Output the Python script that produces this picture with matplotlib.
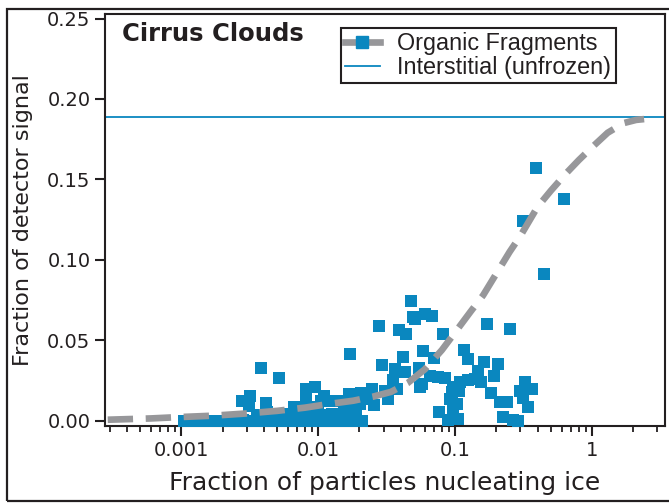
import matplotlib
matplotlib.use("Agg")
import matplotlib.pyplot as plt
from matplotlib.lines import Line2D
from matplotlib.patches import Rectangle
from matplotlib.ticker import FixedLocator, LogLocator, NullFormatter

# Fitted organic-fragment curve (fraction nucleating vs. detector fraction)
curve_x = [0.00029, 0.0006, 0.001, 0.0017, 0.003, 0.005, 0.008, 0.012, 0.018,
           0.025, 0.034, 0.045, 0.06, 0.08, 0.1, 0.13, 0.16, 0.2, 0.25, 0.3,
           0.4, 0.5, 0.65, 0.8, 1.0, 1.3, 1.7, 2.1, 2.4]
curve_y = [0.0007, 0.0015, 0.0024, 0.0032, 0.0046, 0.0062, 0.0082, 0.0105, 0.0125,
           0.0150, 0.0180, 0.0235, 0.0320, 0.0440, 0.055, 0.068, 0.078, 0.0915, 0.105,
           0.115, 0.133, 0.143, 0.154, 0.162, 0.170, 0.179, 0.185, 0.187, 0.1875]

# Individual cloud-event measurements
frag_x = [0.390, 0.624, 0.314, 0.447, 0.0475, 0.0493, 0.0509, 0.060, 0.0675, 0.0276,
          0.172, 0.252, 0.039, 0.044, 0.0812, 0.0170, 0.0413, 0.0586, 0.117, 0.124,
          0.0705, 0.162, 0.207, 0.029, 0.0361, 0.0427, 0.054, 0.148, 0.0038, 0.00515,
          0.0349, 0.193, 0.0657, 0.0747, 0.0844, 0.057, 0.0555, 0.096, 0.109, 0.125,
          0.140, 0.155, 0.0944, 0.107, 0.183, 0.0918, 0.103, 0.097, 0.212, 0.238,
          0.323, 0.297, 0.365, 0.314, 0.341, 0.0767, 0.0893, 0.1045, 0.224, 0.265,
          0.289, 0.0305, 0.0323, 0.0376, 0.0206, 0.0245, 0.0167, 0.0227, 0.0254, 0.0203,
          0.0187, 0.0172, 0.0081, 0.0095, 0.011, 0.0082, 0.0104, 0.0123, 0.0141, 0.0153,
          0.0067, 0.0093, 0.00276, 0.00317, 0.00415, 0.00312, 0.0036, 0.0042,
          # near-zero band
          0.00105, 0.00115, 0.00125, 0.0014, 0.0015, 0.0016, 0.0018, 0.0019, 0.002,
          0.0022, 0.0023, 0.0025, 0.0026, 0.0028, 0.003, 0.0032, 0.0034, 0.0036,
          0.0038, 0.0041, 0.0043, 0.0046, 0.0048, 0.0051, 0.0054, 0.0057, 0.006,
          0.0064, 0.0067, 0.0071, 0.0075, 0.0080, 0.0084, 0.0089, 0.0094, 0.0100,
          0.0105, 0.0112, 0.0118, 0.0124, 0.013, 0.0138, 0.0145, 0.0152, 0.016,
          0.0169, 0.0178, 0.0186, 0.0195, 0.0203, 0.021,
          0.0052, 0.0058, 0.0065, 0.0072, 0.0080, 0.0089, 0.0099, 0.011, 0.0125, 0.014,
          0.0155, 0.017, 0.019, 0.0061, 0.0076, 0.0094, 0.0118, 0.0148, 0.0178]
frag_y = [0.157, 0.138, 0.124, 0.0912, 0.0744, 0.0644, 0.063, 0.0665, 0.065, 0.0588,
          0.060, 0.0569, 0.0563, 0.0538, 0.054, 0.0413, 0.0395, 0.0432, 0.0441, 0.0382,
          0.0389, 0.0364, 0.0351, 0.0349, 0.032, 0.0301, 0.0326, 0.0307, 0.0326, 0.0264,
          0.0254, 0.0276, 0.0281, 0.027, 0.0264, 0.0229, 0.0212, 0.0212, 0.0239, 0.0254,
          0.026, 0.0239, 0.0181, 0.0187, 0.017, 0.0135, 0.0104, 0.0077, 0.0118, 0.0118,
          0.0239, 0.0187, 0.0201, 0.0145, 0.0087, 0.0058, 0.0004, 0.001, 0.0025, 0.0004,
          0.0, 0.0187, 0.0135, 0.0198, 0.0176, 0.0198, 0.0166, 0.0135, 0.0098, 0.0104,
          0.0083, 0.0052, 0.0198, 0.0212, 0.0156, 0.0129, 0.0125, 0.0125, 0.0125, 0.0094,
          0.0083, 0.0083, 0.0125, 0.0152, 0.0112, 0.0094, 0.0037, 0.0052,
          0.0, 0.0001, 0.0, 0.0002, 0.0, 0.0001, 0.0, 0.0002, 0.0,
          0.0001, 0.0, 0.0002, 0.0, 0.0003, 0.0, 0.0002, 0.0, 0.0003,
          0.0001, 0.0004, 0.0, 0.0003, 0.0005, 0.0, 0.0003, 0.0001, 0.0005,
          0.0, 0.0004, 0.0001, 0.0006, 0.0, 0.0005, 0.0002, 0.0006, 0.0,
          0.0005, 0.0001, 0.0004, 0.0, 0.0003, 0.0001, 0.0004, 0.0, 0.0003,
          0.0001, 0.0, 0.0002, 0.0, 0.0001, 0.0,
          0.0030, 0.0045, 0.0035, 0.0050, 0.0040, 0.0030, 0.0048, 0.0036, 0.0042, 0.0030,
          0.0045, 0.0038, 0.0032, 0.0022, 0.0026, 0.0020, 0.0024, 0.0021, 0.0025]

interstitial_level = 0.1887

x_ticks = [0.001, 0.01, 0.1, 1]
x_tick_labels = ["0.001", "0.01", "0.1", "1"]
y_ticks = [0.00, 0.05, 0.10, 0.15, 0.20, 0.25]
y_tick_labels = ["0.00", "0.05", "0.10", "0.15", "0.20", "0.25"]

BLUE = "#0a87bf"
GREY = "#97979a"
INK = "#231f20"

W, H = 669, 504
fig = plt.figure(figsize=(W / 100, H / 100), dpi=100)
fig.patch.set_facecolor("white")

# outer frame around the panel
fig.patches.append(Rectangle((7 / W, 3 / H), 700 / W, 492 / H, transform=fig.transFigure,
                             fill=False, edgecolor=INK, linewidth=1.6))

ax = fig.add_axes([105 / W, 1 - 426 / H, 560 / W, 412 / H])
ax.set_xscale("log")
ax.set_xlim(2.77e-4, 3.41)
ax.set_ylim(-0.0032, 0.2528)

ax.axhline(interstitial_level, color=BLUE, linewidth=1.3, zorder=2)
ax.plot(frag_x, frag_y, linestyle="none", marker="s", markersize=8.0,
        markerfacecolor=BLUE, markeredgewidth=0, zorder=3)
ax.plot(curve_x, curve_y, color=GREY, linewidth=4.8, dashes=(3.8, 1.9),
        dash_capstyle="butt", zorder=4)

for s in ax.spines.values():
    s.set_color(INK)
    s.set_linewidth(1.5)

ax.xaxis.set_major_locator(FixedLocator(x_ticks))
ax.set_xticklabels(x_tick_labels)
ax.xaxis.set_minor_locator(LogLocator(base=10, subs=range(2, 10)))
ax.xaxis.set_minor_formatter(NullFormatter())
ax.set_yticks(y_ticks)
ax.set_yticklabels(y_tick_labels)

ax.tick_params(axis="both", which="major", direction="out", length=7.5, width=1.5,
               color=INK, labelsize=14, labelcolor=INK, pad=3)
ax.tick_params(axis="x", which="minor", direction="out", length=4.5, width=1.3, color=INK)
ax.tick_params(top=False, right=False)
for lab in ax.get_xticklabels() + ax.get_yticklabels():
    lab.set_family("DejaVu Sans")

ax.set_xlabel("Fraction of particles nucleating ice", fontsize=18, family="DejaVu Sans",
              color=INK, labelpad=8)
ax.set_ylabel("Fraction of detector signal", fontsize=16, family="DejaVu Sans",
              color=INK, labelpad=10)

ax.text(0.030, 0.951, "Cirrus Clouds", transform=ax.transAxes, fontsize=17.5,
        fontweight="bold", family="DejaVu Sans", color=INK, ha="left", va="center")

handles = [
    Line2D([], [], color=GREY, linewidth=4.8, marker="s", markersize=8,
           markerfacecolor=BLUE, markeredgecolor=BLUE),
    Line2D([], [], color=BLUE, linewidth=1.3),
]
leg = ax.legend(handles, ["Organic Fragments", "Interstitial (unfrozen)"],
                loc="upper left", bbox_to_anchor=(0.421, 0.966), borderaxespad=0,
                prop={"family": "Liberation Sans", "size": 16.8}, fancybox=False,
                framealpha=1, edgecolor=INK, handlelength=1.5, handletextpad=0.75,
                borderpad=0.18, labelspacing=0.02)
leg.get_frame().set_linewidth(1.5)
for t in leg.get_texts():
    t.set_color(INK)

fig.savefig("out.png", dpi=100)
